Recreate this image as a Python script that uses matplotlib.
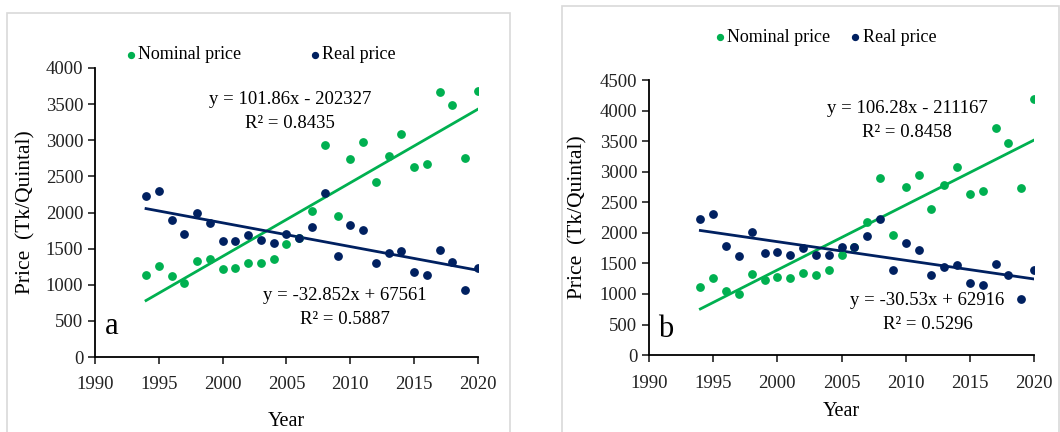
import matplotlib.pyplot as plt
from matplotlib.patches import Rectangle

plt.rcParams['font.family'] = ['Liberation Serif', 'DejaVu Serif']

years = list(range(1994, 2021))

# panel a
nominal_a = [1135, 1264, 1121, 1024, 1333, 1361, 1218, 1227, 1301, 1301, 1361, 1564, 1650,
             2016, 2939, 1956, 2740, 2976, 2418, 2787, 3082, 2630, 2676, 3673, 3488, 2759, 3686]
real_a = [2228, 2298, 1901, 1698, 1988, 1855, 1606, 1606, 1684, 1624, 1578, 1707, 1647,
          1799, 2270, 1398, 1822, 1753, 1306, 1439, 1463, 1172, 1135, 1476, 1310, 927, 1227]
trend_nom_a = (101.86, -202327)
trend_real_a = (-32.852, 67561)

# panel b
nominal_b = [1122, 1258, 1051, 992, 1335, 1226, 1275, 1258, 1346, 1313, 1395, 1640, 1765,
             2179, 2893, 1972, 2757, 2942, 2392, 2784, 3083, 2631, 2680, 3715, 3470, 2740, 4195]
real_b = [2223, 2315, 1787, 1629, 2010, 1673, 1689, 1645, 1749, 1640, 1634, 1765, 1765,
          1956, 2228, 1400, 1841, 1727, 1307, 1444, 1471, 1188, 1139, 1493, 1307, 921, 1400]
trend_nom_b = (106.28, -211167)
trend_real_b = (-30.53, 62916)

green = '#00B050'
navy = '#002060'

fig = plt.figure(figsize=(10.6, 4.32), dpi=100)

# light frames around panels
fig.patches.append(Rectangle((7 / 1060, -0.05), 503 / 1060, 1 - 13 / 432 + 0.05,
                             transform=fig.transFigure, fill=False, ec='#d9d9d9', lw=1.2))
fig.patches.append(Rectangle((562 / 1060, -0.05), 497 / 1060, 1 - 6 / 432 + 0.05,
                             transform=fig.transFigure, fill=False, ec='#d9d9d9', lw=1.2))

panels = [
    dict(rect=[0.0896, 0.1736, 0.3613, 0.669], nom=nominal_a, real=real_a,
         tn=trend_nom_a, tr=trend_real_a, ymax=4000, letter='a',
         eq1='y = 101.86x - 202327\nR² = 0.8435', eq1_xy=(2005.3, 3400),
         eq2='y = -32.852x + 67561\nR² = 0.5887', eq2_xy=(2009.6, 680),
         leg=(0.07, 1.045), leg_gap=3.6, ylab_x=-0.155, xlab_y=-0.19),
    dict(rect=[0.6123, 0.178, 0.3632, 0.6366], nom=nominal_b, real=real_b,
         tn=trend_nom_b, tr=trend_real_b, ymax=4500, letter='b',
         eq1='y = 106.28x - 211167\nR² = 0.8458', eq1_xy=(2010.1, 3845),
         eq2='y = -30.53x + 62916\nR² = 0.5296', eq2_xy=(2011.7, 700),
         leg=(0.16, 1.155), leg_gap=0.9, ylab_x=-0.16, xlab_y=-0.17),
]

for p in panels:
    ax = fig.add_axes(p['rect'])
    ax.scatter(years, p['nom'], s=28, color=green, zorder=3, label='Nominal price')
    ax.scatter(years, p['real'], s=28, color=navy, zorder=4, label='Real price')
    x0, x1 = years[0], years[-1]
    m, c = p['tn']
    ax.plot([x0, x1], [m * x0 + c, m * x1 + c], color=green, lw=2, zorder=2)
    m, c = p['tr']
    ax.plot([x0, x1], [m * x0 + c, m * x1 + c], color=navy, lw=2, zorder=2)

    ax.set_xlim(1990, 2020)
    ax.set_ylim(0, p['ymax'])
    ax.set_xticks(range(1990, 2021, 5))
    ax.set_yticks(range(0, p['ymax'] + 1, 500))
    for s in ['top', 'right']:
        ax.spines[s].set_visible(False)
    for s in ['left', 'bottom']:
        ax.spines[s].set_color('black')
        ax.spines[s].set_linewidth(1.3)
    ax.tick_params(axis='both', labelsize=13.5, direction='out', length=5, width=1.2, colors='#222222')
    ax.tick_params(axis='x', pad=9)

    ax.set_ylabel('Price  (Tk/Quintal)', fontsize=15.5)
    ax.yaxis.set_label_coords(p['ylab_x'], 0.5)
    ax.set_xlabel('Year', fontsize=14.5)
    ax.xaxis.set_label_coords(0.5, p['xlab_y'])

    ax.text(*p['eq1_xy'], p['eq1'], fontsize=13.5, ha='center', va='center', linespacing=1.55)
    ax.text(*p['eq2_xy'], p['eq2'], fontsize=13.5, ha='center', va='center', linespacing=1.55)
    ax.text(1991.3, 420, p['letter'], fontsize=22, ha='center', va='center')

    ax.legend(loc='center left', bbox_to_anchor=p['leg'], ncol=2, frameon=False,
              fontsize=13, handletextpad=-0.1, columnspacing=p['leg_gap'],
              markerscale=0.8, borderaxespad=0, handlelength=1.0, borderpad=0)

fig.savefig('out.png', dpi=100)
